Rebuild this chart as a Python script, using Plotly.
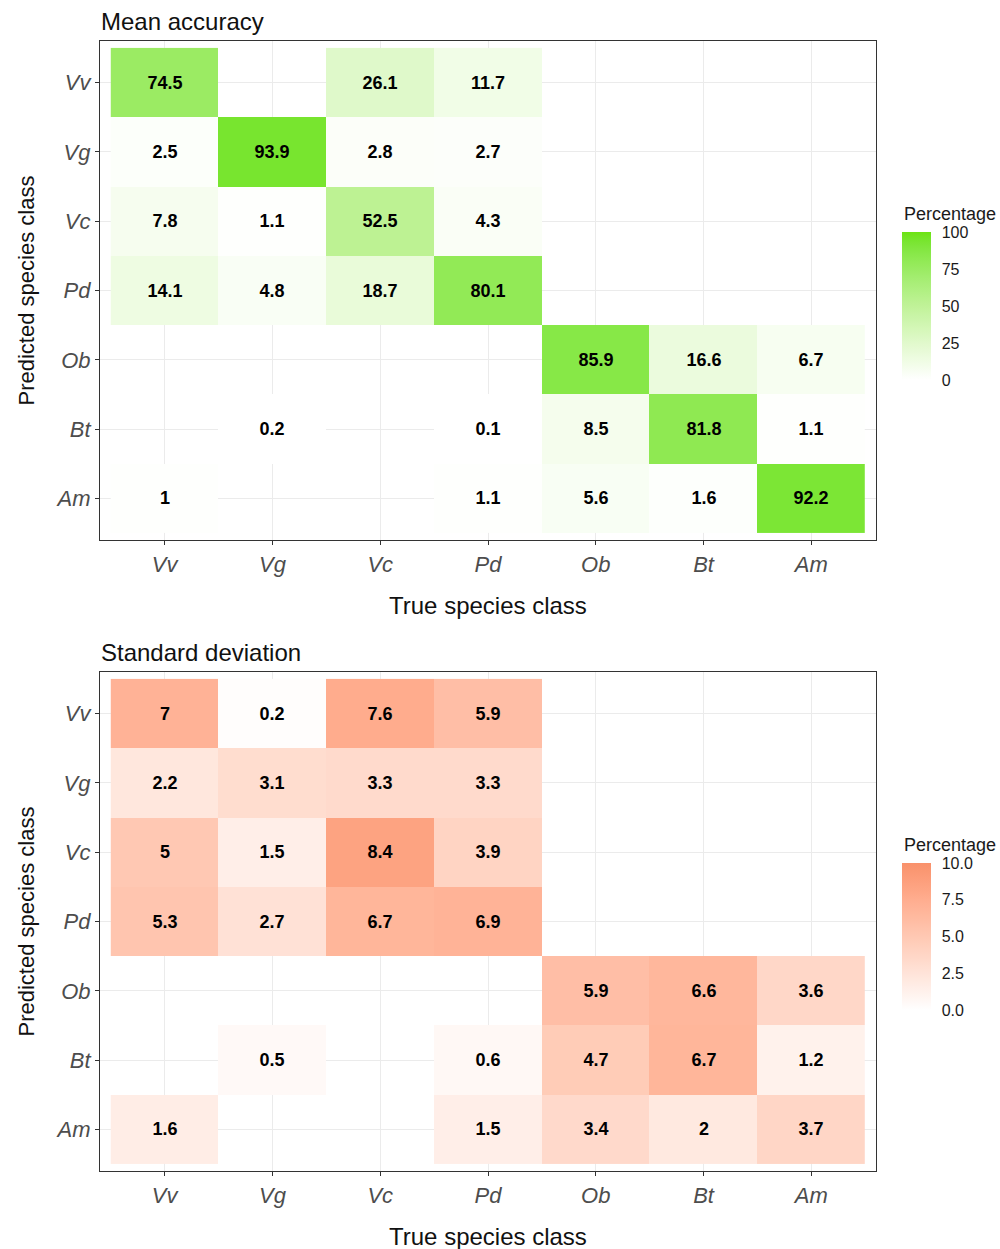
import plotly.graph_objects as go
import numpy as np

# Species classes (true = columns, predicted = rows)
classes = ["Vv", "Vg", "Vc", "Pd", "Ob", "Bt", "Am"]

# Mean accuracy (%), rows = predicted class, columns = true class
mean_acc = [
    [74.5, None, 26.1, 11.7, None, None, None],
    [2.5, 93.9, 2.8, 2.7, None, None, None],
    [7.8, 1.1, 52.5, 4.3, None, None, None],
    [14.1, 4.8, 18.7, 80.1, None, None, None],
    [None, None, None, None, 85.9, 16.6, 6.7],
    [None, 0.2, None, 0.1, 8.5, 81.8, 1.1],
    [1, None, None, 1.1, 5.6, 1.6, 92.2],
]

# Standard deviation (%), same layout
std_dev = [
    [7, 0.2, 7.6, 5.9, None, None, None],
    [2.2, 3.1, 3.3, 3.3, None, None, None],
    [5, 1.5, 8.4, 3.9, None, None, None],
    [5.3, 2.7, 6.7, 6.9, None, None, None],
    [None, None, None, None, 5.9, 6.6, 3.6],
    [None, 0.5, None, 0.6, 4.7, 6.7, 1.2],
    [1.6, None, None, 1.5, 3.4, 2, 3.7],
]

W, H = 1000, 1249
FONT = "Liberation Sans, Arial, sans-serif"


# --- colour helpers: white -> colour gradient interpolated in CIE Lab ---
def _srgb_to_lin(c):
    c = c / 255.0
    return np.where(c <= 0.04045, c / 12.92, ((c + 0.055) / 1.055) ** 2.4)


def _lin_to_srgb(c):
    c = np.clip(c, 0, 1)
    return np.where(c <= 0.0031308, 12.92 * c, 1.055 * c ** (1 / 2.4) - 0.055) * 255


M = np.array([[0.4124, 0.3576, 0.1805],
              [0.2126, 0.7152, 0.0722],
              [0.0193, 0.1192, 0.9505]])
WHITE_XYZ = M @ np.ones(3)


def _f(t):
    d = 6 / 29
    return np.where(t > d ** 3, np.cbrt(t), t / (3 * d * d) + 4 / 29)


def _finv(t):
    d = 6 / 29
    return np.where(t > d, t ** 3, 3 * d * d * (t - 4 / 29))


def rgb_to_lab(rgb):
    xyz = M @ _srgb_to_lin(np.array(rgb, dtype=float)) / WHITE_XYZ
    fx, fy, fz = _f(xyz)
    return np.array([116 * fy - 16, 500 * (fx - fy), 200 * (fy - fz)])


def lab_to_rgb(lab):
    L, a, b = lab
    fy = (L + 16) / 116
    fx = fy + a / 500
    fz = fy - b / 200
    xyz = _finv(np.array([fx, fy, fz])) * WHITE_XYZ
    return _lin_to_srgb(np.linalg.solve(M, xyz))


def lab_scale(high_hex, n=21):
    hi = [int(high_hex[i:i + 2], 16) for i in (1, 3, 5)]
    l0, l1 = rgb_to_lab([255, 255, 255]), rgb_to_lab(hi)
    out = []
    for t in np.linspace(0, 1, n):
        r, g, b = lab_to_rgb(l0 + (l1 - l0) * t)
        out.append([float(t), f"rgb({r:.0f},{g:.0f},{b:.0f})"])
    return out


def to_z(rows):
    return np.array([[np.nan if v is None else v for v in r] for r in rows], dtype=float)


def to_text(rows):
    return [["" if v is None else f"{v:g}" for v in r] for r in rows]


def py(px):
    """pixel row -> paper fraction"""
    return 1 - px / H


fig = go.Figure()

panels = [
    dict(z=mean_acc, zmax=100, high="#6CE312", dtick=25, fmt=None,
         top=41, bot=540, cb_top=232, cb_bot=380, title="Mean accuracy"),
    dict(z=std_dev, zmax=10, high="#F9916B", dtick=2.5, fmt=".1f",
         top=672, bot=1171, cb_top=863, cb_bot=1010, title="Standard deviation"),
]

x0, x1 = 100, 876

for i, p in enumerate(panels):
    sfx = "" if i == 0 else "2"
    cb = dict(
        x=902 / W, xanchor="left",
        y=py(p["cb_bot"]), yanchor="bottom",
        len=p["cb_bot"] - p["cb_top"], lenmode="pixels",
        thickness=29, thicknessmode="pixels",
        outlinewidth=0,
        tickmode="linear", tick0=0, dtick=p["dtick"],
        ticks="outside", ticklen=8, tickcolor="white", tickwidth=1,
        tickfont=dict(family=FONT, size=16, color="#1A1A1A"),
        ypad=0, xpad=0,
    )
    if p["fmt"]:
        cb["tickformat"] = p["fmt"]
    fig.add_trace(go.Heatmap(
        z=to_z(p["z"]), x=classes, y=classes,
        text=to_text(p["z"]), texttemplate="%{text}",
        textfont=dict(family=FONT, size=18, color="black", weight="bold"),
        colorscale=lab_scale(p["high"]),
        zmin=0, zmax=p["zmax"], colorbar=cb,
        xgap=0, ygap=0, hoverongaps=False,
        xaxis="x" + sfx, yaxis="y" + sfx,
    ))

axis_common = dict(
    type="category", categoryorder="array", categoryarray=classes,
    showgrid=True, gridcolor="#EBEBEB", gridwidth=1,
    showline=True, linecolor="#333333", linewidth=1.2, mirror=True,
    ticks="outside", ticklen=4, tickcolor="#333333", tickwidth=1,
    tickfont=dict(family=FONT, size=22, color="#4D4D4D", style="italic"),
    zeroline=False, fixedrange=True,
)

layout_axes = {}
for i, p in enumerate(panels):
    sfx = "" if i == 0 else "2"
    layout_axes["xaxis" + sfx] = dict(
        axis_common, domain=[x0 / W, x1 / W], range=[-0.6, 6.6],
        anchor="y" + sfx,
    )
    layout_axes["yaxis" + sfx] = dict(
        axis_common, domain=[py(p["bot"]), py(p["top"])], range=[6.6, -0.6],
        anchor="x" + sfx,
    )

annotations = []
for p in panels:
    annotations.append(dict(
        text=p["title"], xref="paper", yref="paper",
        x=x0 / W - 0.001, y=py(p["top"] - 4), xanchor="left", yanchor="bottom",
        showarrow=False, font=dict(family=FONT, size=24, color="#111111"),
    ))
    annotations.append(dict(
        text="True species class", xref="paper", yref="paper",
        x=(x0 + x1) / 2 / W, y=py(p["bot"] + 65), xanchor="center", yanchor="middle",
        showarrow=False, font=dict(family=FONT, size=24, color="#111111"),
    ))
    annotations.append(dict(
        text="Predicted species class", xref="paper", yref="paper",
        x=26 / W, y=py((p["top"] + p["bot"]) / 2), xanchor="center", yanchor="middle",
        textangle=-90,
        showarrow=False, font=dict(family=FONT, size=22, color="#111111"),
    ))
    annotations.append(dict(
        text="Percentage", xref="paper", yref="paper",
        x=902 / W, y=py(p["cb_top"] - 6), xanchor="left", yanchor="bottom",
        showarrow=False, font=dict(family=FONT, size=18, color="#1A1A1A"),
    ))

fig.update_layout(
    width=W, height=H,
    margin=dict(l=0, r=0, t=0, b=0),
    paper_bgcolor="white", plot_bgcolor="white",
    annotations=annotations,
    **layout_axes,
)

fig.write_html("out.html")
